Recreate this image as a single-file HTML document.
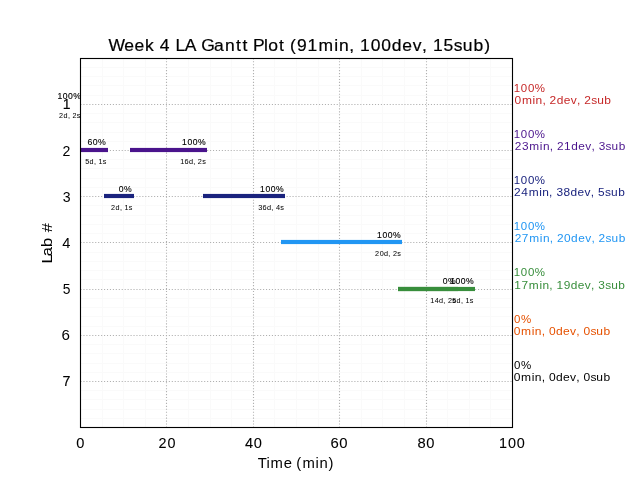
<!DOCTYPE html>
<html><head><meta charset="utf-8"><title>Week 4 LA Gantt Plot</title><style>html,body{margin:0;padding:0;background:#fff;overflow:hidden;}svg{display:block;}text{font-family:"Liberation Sans", sans-serif;}</style></head><body>
<div style="will-change:transform;width:640px;height:480px;">
<svg width="640" height="480" viewBox="0 0 640 480">
<rect x="0" y="0" width="640" height="480" fill="#ffffff"/>
<path d="M102.5 59V427M123.5 59V427M145.5 59V427M188.5 59V427M210.5 59V427M231.5 59V427M274.5 59V427M296.5 59V427M318.5 59V427M361.5 59V427M382.5 59V427M404.5 59V427M447.5 59V427M469.5 59V427M490.5 59V427M81 67.5H512M81 76.5H512M81 85.5H512M81 95.5H512M81 113.5H512M81 122.5H512M81 132.5H512M81 141.5H512M81 159.5H512M81 168.5H512M81 178.5H512M81 187.5H512M81 205.5H512M81 215.5H512M81 224.5H512M81 233.5H512M81 252.5H512M81 261.5H512M81 270.5H512M81 279.5H512M81 298.5H512M81 307.5H512M81 316.5H512M81 326.5H512M81 344.5H512M81 353.5H512M81 363.5H512M81 372.5H512M81 390.5H512M81 399.5H512M81 409.5H512M81 418.5H512" stroke="#fafafa" stroke-width="1" fill="none" shape-rendering="crispEdges"/>
<path d="M166.5 428V58M253.5 428V58M339.5 428V58M426.5 428V58M80 104.5H512M80 150.5H512M80 196.5H512M80 242.5H512M80 289.5H512M80 335.5H512M80 381.5H512" stroke="#b0b0b0" stroke-width="1.111" stroke-dasharray="1.111 1.834" stroke-dashoffset="-0.46" fill="none"/>
<rect x="80" y="147.915" width="28" height="4.17" fill="#4a148c"/>
<rect x="130" y="147.915" width="77" height="4.17" fill="#4a148c"/>
<rect x="104" y="193.915" width="30" height="4.17" fill="#1a237e"/>
<rect x="203" y="193.915" width="82" height="4.17" fill="#1a237e"/>
<rect x="281" y="239.915" width="121" height="4.17" fill="#2196f3"/>
<rect x="398" y="286.915" width="60" height="4.17" fill="#388e3c"/>
<rect x="398" y="286.915" width="77" height="4.17" fill="#388e3c"/>
<rect x="80.5" y="58.5" width="432" height="369" fill="none" stroke="#000" stroke-width="1.11"/>
<text id="bl0" x="0.21 5.49 10.73 15.85" y="0" font-size="8.485" fill="#000000" stroke="#000000" stroke-width="0.140" transform="translate(57.20 99.10) scale(1.0163 1)">100%</text>
<text id="bl1" x="0.10 4.49 8.72 10.96 13.14 17.43" y="0" font-size="7.071" fill="#000000" stroke="#000000" stroke-width="0.030" transform="translate(59.00 117.88) scale(1.0239 1)">2d, 2s</text>
<text id="bl2" x="0.21 5.37 10.39" y="0" font-size="8.485" fill="#000000" stroke="#000000" stroke-width="0.100" transform="translate(87.20 145.08) scale(1.0324 1)">60%</text>
<text id="bl3" x="0.18 4.54 8.78 11.04 13.30 17.57" y="0" font-size="7.071" fill="#000000" stroke="#000000" stroke-width="0.030" transform="translate(85.00 163.83) scale(1.0167 1)">5d, 1s</text>
<text id="bl4" x="0.21 5.49 10.73 15.85" y="0" font-size="8.485" fill="#000000" stroke="#000000" stroke-width="0.140" transform="translate(181.80 145.10) scale(1.0163 1)">100%</text>
<text id="bl5" x="0.14 4.49 8.76 12.96 15.18 17.33 21.60" y="0" font-size="7.071" fill="#000000" stroke="#000000" stroke-width="0.030" transform="translate(180.00 163.83) scale(1.0319 1)">16d, 2s</text>
<text id="bl6" x="0.24 5.35" y="0" font-size="8.485" fill="#000000" stroke="#000000" stroke-width="0.100" transform="translate(118.60 192.06) scale(1.0184 1)">0%</text>
<text id="bl7" x="0.10 4.51 8.73 10.98 13.22 17.46" y="0" font-size="7.071" fill="#000000" stroke="#000000" stroke-width="0.030" transform="translate(111.00 209.92) scale(1.0222 1)">2d, 1s</text>
<text id="bl8" x="0.21 5.49 10.73 15.85" y="0" font-size="8.485" fill="#000000" stroke="#000000" stroke-width="0.140" transform="translate(259.80 192.10) scale(1.0163 1)">100%</text>
<text id="bl9" x="0.17 4.44 8.68 12.86 15.07 17.28 21.43" y="0" font-size="7.071" fill="#000000" stroke="#000000" stroke-width="0.030" transform="translate(258.00 209.77) scale(1.0394 1)">36d, 4s</text>
<text id="bl10" x="0.21 5.49 10.73 15.85" y="0" font-size="8.485" fill="#000000" stroke="#000000" stroke-width="0.140" transform="translate(376.80 238.10) scale(1.0163 1)">100%</text>
<text id="bl11" x="0.10 4.52 8.82 13.03 15.27 17.44 21.73" y="0" font-size="7.071" fill="#000000" stroke="#000000" stroke-width="0.030" transform="translate(375.00 255.82) scale(1.0262 1)">20d, 2s</text>
<text id="bl12" x="0.24 5.35" y="0" font-size="8.485" fill="#000000" stroke="#000000" stroke-width="0.100" transform="translate(442.60 284.06) scale(1.0184 1)">0%</text>
<text id="bl13" x="0.15 4.53 8.83 13.05 15.29 17.47 21.76" y="0" font-size="7.071" fill="#000000" stroke="#000000" stroke-width="0.030" transform="translate(430.00 302.85) scale(1.0250 1)">14d, 2s</text>
<text id="bl14" x="0.21 5.49 10.73 15.85" y="0" font-size="8.485" fill="#000000" stroke="#000000" stroke-width="0.140" transform="translate(449.80 284.10) scale(1.0163 1)">100%</text>
<text id="bl15" x="0.18 4.54 8.78 11.04 13.30 17.57" y="0" font-size="7.071" fill="#000000" stroke="#000000" stroke-width="0.030" transform="translate(452.00 302.83) scale(1.0167 1)">5d, 1s</text>
<text id="ra0" x="0.27 7.29 14.26 21.06" y="0" font-size="11.313" fill="#c62828" transform="translate(513.40 91.64) scale(1.0163 1)">100%</text>
<text id="rb0" x="0.19 7.11 17.12 20.03 26.47 29.92 33.21 39.97 46.61 53.25 59.18 62.62 65.91 72.53 78.17 84.92" y="0" font-size="11.313" fill="#c62828" transform="translate(514.40 104.27) scale(1.0593 1)">0min, 2dev, 2sub</text>
<text id="ra1" x="0.27 7.29 14.26 21.06" y="0" font-size="11.313" fill="#4a148c" transform="translate(513.40 137.64) scale(1.0163 1)">100%</text>
<text id="rb1" x="0.09 7.01 14.01 24.10 27.07 33.57 37.06 40.41 47.25 54.01 60.73 67.44 73.43 76.91 80.42 86.95 92.67 99.50" y="0" font-size="11.313" fill="#4a148c" transform="translate(514.60 150.21) scale(1.0468 1)">23min, 21dev, 3sub</text>
<text id="ra2" x="0.27 7.29 14.26 21.06" y="0" font-size="11.313" fill="#1a237e" transform="translate(513.40 183.64) scale(1.0163 1)">100%</text>
<text id="rb2" x="0.07 6.94 13.92 23.98 26.92 33.40 36.87 40.35 47.07 53.73 60.42 67.10 73.06 76.53 79.96 86.52 92.21 99.00" y="0" font-size="11.313" fill="#1a237e" transform="translate(514.00 196.14) scale(1.0519 1)">24min, 38dev, 5sub</text>
<text id="ra3" x="0.27 7.29 14.26 21.06" y="0" font-size="11.313" fill="#2196f3" transform="translate(513.40 229.64) scale(1.0163 1)">100%</text>
<text id="rb3" x="0.07 6.92 13.92 23.98 26.93 33.41 36.88 40.21 47.08 53.74 60.44 67.12 73.08 76.55 79.88 86.53 92.22 99.02" y="0" font-size="11.313" fill="#2196f3" transform="translate(514.60 242.15) scale(1.0517 1)">27min, 20dev, 2sub</text>
<text id="ra4" x="0.27 7.29 14.26 21.06" y="0" font-size="11.313" fill="#388e3c" transform="translate(513.40 275.64) scale(1.0163 1)">100%</text>
<text id="rb4" x="0.15 6.91 13.90 23.95 26.89 33.37 36.83 40.24 46.98 53.67 60.36 67.03 72.99 76.46 79.93 86.43 92.11 98.90" y="0" font-size="11.313" fill="#388e3c" transform="translate(514.20 289.13) scale(1.0529 1)">17min, 19dev, 3sub</text>
<text id="ra5" x="0.32 7.10" y="0" font-size="11.313" fill="#e65100" transform="translate(513.80 322.57) scale(1.0184 1)">0%</text>
<text id="rb5" x="0.17 7.04 17.02 19.90 26.32 29.75 33.15 39.73 46.34 52.94 58.84 62.26 65.67 72.11 77.72 84.43" y="0" font-size="11.313" fill="#e65100" transform="translate(513.60 335.21) scale(1.0652 1)">0min, 0dev, 0sub</text>
<text id="ra6" x="0.32 7.10" y="0" font-size="11.313" fill="#000000" transform="translate(513.80 368.57) scale(1.0184 1)">0%</text>
<text id="rb6" x="0.17 7.04 17.02 19.90 26.32 29.75 33.15 39.73 46.34 52.94 58.84 62.26 65.67 72.11 77.72 84.43" y="0" font-size="11.313" fill="#000000" transform="translate(513.60 381.21) scale(1.0652 1)">0min, 0dev, 0sub</text>
<text id="title" x="-0.02 15.25 25.17 35.37 44.35 49.68 59.73 64.76 73.85 85.23 89.80 102.25 112.95 123.49 129.81 135.58 139.97 150.57 154.92 165.32 171.08 175.89 182.65 192.87 203.64 218.87 223.41 233.24 238.53 243.77 254.12 264.37 274.52 284.73 294.90 303.94 309.23 314.48 324.76 334.74 343.42 353.79 364.26" y="0" font-size="16.969" fill="#000000" stroke="#000000" stroke-width="0.200" transform="translate(108.60 50.75) scale(1.0313 1)">Week 4 LA Gantt Plot (91min, 100dev, 15sub)</text>
<text id="xlabel" x="-0.27 8.01 12.01 24.47 32.59 36.53 42.42 54.99 58.69 67.38" y="0" font-size="14.141" fill="#000000" transform="translate(258.00 467.88) scale(1.0480 1)">Time (min)</text>
<text id="ylabel" x="-0.40 5.88 13.86 21.45 26.39" y="0" font-size="14.141" fill="#000000" transform="translate(51.66 263.00) rotate(-90) scale(1.1635 1)">Lab #</text>
<text id="xt0" x="0.33" y="0" font-size="14.141" fill="#000000" stroke="#000000" stroke-width="0.080" transform="translate(76.00 447.59) scale(1.0353 1)">0</text>
<text id="xt1" x="0.23 9.09" y="0" font-size="14.141" fill="#000000" stroke="#000000" stroke-width="0.080" transform="translate(158.20 447.75) scale(1.0171 1)">20</text>
<text id="xt2" x="0.33 8.86" y="0" font-size="14.141" fill="#000000" stroke="#000000" stroke-width="0.080" transform="translate(244.60 447.58) scale(1.0354 1)">40</text>
<text id="xt3" x="0.26 8.64" y="0" font-size="14.141" fill="#000000" stroke="#000000" stroke-width="0.080" transform="translate(330.20 447.65) scale(1.0531 1)">60</text>
<text id="xt4" x="0.31 8.79" y="0" font-size="14.141" fill="#000000" stroke="#000000" stroke-width="0.080" transform="translate(417.20 447.60) scale(1.0409 1)">80</text>
<text id="xt5" x="0.32 9.04 17.69" y="0" font-size="14.141" fill="#000000" stroke="#000000" stroke-width="0.080" transform="translate(498.80 447.73) scale(1.0209 1)">100</text>
<text id="yt0" x="0.47" y="0" font-size="14.141" fill="#000000" stroke="#000000" stroke-width="0.150" transform="translate(62.20 109.12) scale(0.9888 1)">1</text>
<text id="yt1" x="0.31" y="0" font-size="14.141" fill="#000000" transform="translate(62.20 155.94) scale(0.9980 1)">2</text>
<text id="yt2" x="0.53" y="0" font-size="14.141" fill="#000000" transform="translate(62.20 201.64) scale(0.9943 1)">3</text>
<text id="yt3" x="0.33" y="0" font-size="14.141" fill="#000000" transform="translate(62.00 247.57) scale(1.0355 1)">4</text>
<text id="yt4" x="0.53" y="0" font-size="14.141" fill="#000000" transform="translate(62.20 294.39) scale(0.9771 1)">5</text>
<text id="yt5" x="0.19" y="0" font-size="14.141" fill="#000000" transform="translate(61.20 339.70) scale(1.0715 1)">6</text>
<text id="yt6" x="0.40" y="0" font-size="14.141" fill="#000000" stroke="#000000" stroke-width="0.150" transform="translate(62.20 386.36) scale(1.0128 1)">7</text>
</svg></div></body></html>
